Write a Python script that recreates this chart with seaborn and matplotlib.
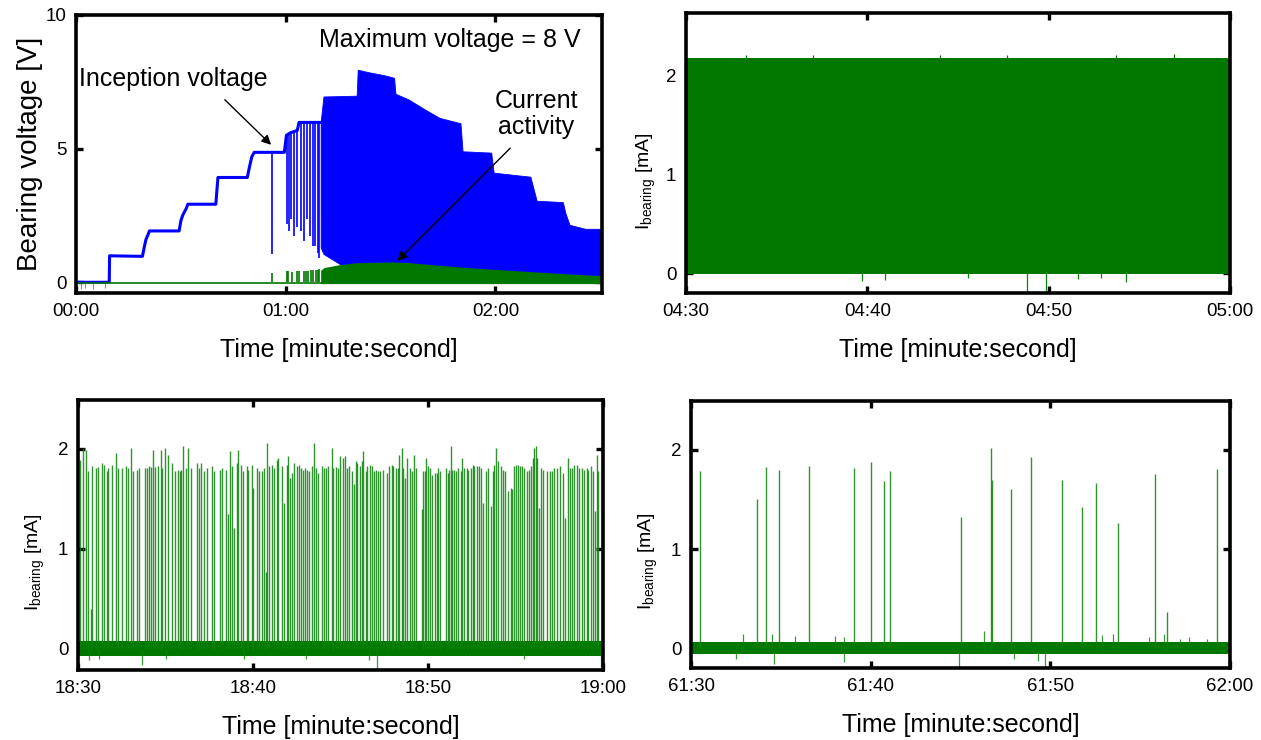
import matplotlib
matplotlib.use("Agg")
import matplotlib.pyplot as plt
import numpy as np
import pandas as pd
import seaborn as sns
from matplotlib.ticker import FuncFormatter, MultipleLocator

BLUE = "#0000ff"
GREEN = "#007800"
SPIKE_GREEN = "#0a820a"

# ---- panel 1: voltage ramp (s, V) ----
volt_t = [0, 9.5, 9.6, 19.0, 19.5, 20.0, 20.5, 21.0, 29.5, 30.0, 30.5, 31.5, 32.0,
          40.0, 40.6, 49.0, 49.6, 50.3, 51.0, 59.6, 60.2, 61.5, 63.3, 63.8, 70.0]
volt_v = [0.0, 0.0, 0.99, 0.97, 1.3, 1.6, 1.75, 1.92, 1.92, 2.3, 2.5, 2.75, 2.92,
          2.92, 3.92, 3.92, 4.3, 4.7, 4.86, 4.86, 5.5, 5.6, 5.68, 5.98, 5.98]
# breakdown drops before the dense region (time, lowest voltage)
drop_t = [56.0, 60.4, 60.8, 61.5, 62.3, 63.2, 64.4, 65.3, 66.2, 66.9, 67.7, 68.4, 69.1, 69.6]
drop_v = [1.05, 2.17, 1.92, 2.36, 1.73, 2.05, 1.92, 1.55, 2.36, 1.73, 1.36, 1.36, 1.11, 0.92]
dip_t = [1.3, 2.6, 4.9, 8.3]
dip_v = [-0.26, -0.2, -0.26, -0.2]
# dense blue envelope after t = 70 s
band_t = [70.0, 70.8, 80.3, 80.6, 84, 88, 91.0, 91.4, 95, 100, 104, 110.0, 110.6,
          118.8, 119.5, 130.0, 131.8, 139.3, 140.0, 141.2, 145.7, 150.5]
band_hi = [6.0, 6.95, 6.98, 7.95, 7.85, 7.75, 7.65, 7.05, 6.85, 6.45, 6.15, 5.95, 4.9,
           4.85, 4.1, 3.95, 3.05, 3.0, 2.6, 2.15, 2.0, 2.0]
band_lo_t = [70.0, 71.0, 73.0, 75.0, 76.0, 150.5]
band_lo = [1.3, 1.0, 0.85, 0.7, 0.3, 0.2]
# current activity envelope
cur_t = [70.0, 71, 75, 80, 90, 95, 100, 110, 120, 130, 140, 150.5]
cur_hi = [0.45, 0.55, 0.65, 0.73, 0.76, 0.74, 0.68, 0.57, 0.48, 0.40, 0.32, 0.25]
cur_spk_t = [56.0, 60.4, 60.7, 61.7, 63.2, 63.9, 65.1, 65.8, 66.4, 67.2, 67.9, 68.6, 69.1, 69.6]
cur_spk_v = [0.36, 0.42, 0.42, 0.40, 0.42, 0.42, 0.44, 0.42, 0.44, 0.45, 0.46, 0.46, 0.47, 0.48]

# ---- panel 2: 04:30 - 05:00 ----
p2_start = 270
p2_band = (-0.01, 2.17)
p2_up_t = [3.3, 7.0, 14.0, 17.7, 23.7, 26.9]
p2_up_v = [2.20, 2.21, 2.20, 2.20, 2.21, 2.22]
p2_dn_t = [9.69, 10.99, 15.57, 18.78, 19.88, 21.64, 22.9, 24.27]
p2_dn_v = [-0.08, -0.07, -0.05, -0.2, -0.2, -0.06, -0.05, -0.09]

# ---- panel 3: 18:30 - 19:00 ----
p3_start = 1110
p3_t = [0.11, 0.30, 0.44, 0.59, 0.74, 0.82, 1.01, 1.12, 1.35, 1.47, 1.64, 1.73, 1.92,
        2.17, 2.30, 2.50, 2.74, 2.88, 3.01, 3.12, 3.35, 3.49, 3.83, 3.92, 4.06, 4.17,
        4.30, 4.40, 4.59, 4.74, 4.82, 4.97, 5.12, 5.35, 5.54, 5.73, 5.83, 5.89, 6.02,
        6.15, 6.30, 6.46, 6.78, 6.91, 7.03, 7.22, 7.35, 7.64, 7.79, 8.11, 8.21, 8.44,
        8.55, 8.69, 8.78, 8.93, 9.07, 9.16, 9.30, 9.45, 9.64, 9.73, 9.92,
        9.98, 10.21, 10.34, 10.50, 10.63, 10.74, 10.82, 10.91, 11.07, 11.22, 11.35,
        11.45, 11.68, 11.79, 11.92, 12.02, 12.11, 12.25, 12.36, 12.50, 12.63, 12.74,
        12.88, 12.99, 13.10, 13.22, 13.35, 13.50, 13.58, 13.73, 13.92, 14.06, 14.17,
        14.30, 14.50, 14.59, 14.74, 14.88, 14.97, 15.12, 15.26, 15.35, 15.50, 15.64,
        15.77, 15.89, 15.96, 16.11, 16.21, 16.30, 16.44, 16.53, 16.69, 16.80, 16.91,
        17.03, 17.16, 17.26, 17.41, 17.64, 17.79, 17.92, 18.02, 18.15, 18.27, 18.36,
        18.50, 18.59, 18.69, 18.82, 18.97, 19.07, 19.20, 19.31, 19.64, 19.73, 19.83,
        19.89, 20.02,
        20.11, 20.25, 20.40, 20.51, 20.59, 20.69, 21.01, 21.12, 21.22, 21.31, 21.39,
        21.50, 21.60, 21.73, 21.87, 21.96, 22.08, 22.21, 22.30, 22.44, 22.55, 22.65,
        22.78, 22.91, 23.03, 23.16, 23.30, 23.45, 23.58, 23.70, 23.79, 23.90, 24.02,
        24.17, 24.27, 24.40, 24.59, 24.74, 24.82, 24.93, 25.01, 25.12, 25.26, 25.39,
        25.50, 25.64, 25.77, 25.89, 25.98, 26.06, 26.15, 26.23, 26.34, 26.46, 26.59,
        26.78, 26.97, 27.07, 27.22, 27.35, 27.54, 27.70, 27.83, 27.98, 28.11, 28.21,
        28.36, 28.50, 28.63, 28.78, 28.93, 29.07, 29.16, 29.30, 29.45, 29.54, 29.64,
        29.73]
p3_v = [1.89, 2.01, 1.99, 1.78, 0.40, 1.83, 1.81, 1.82, 1.86, 1.84, 1.78, 1.81, 1.84,
        1.96, 1.81, 1.81, 1.83, 1.81, 2.01, 1.78, 1.79, 1.81, 1.81, 1.81, 1.83, 1.82,
        1.99, 1.82, 1.83, 1.99, 1.81, 2.01, 1.94, 1.86, 1.78, 1.79, 1.78, 1.79, 2.03,
        1.81, 2.01, 1.81, 1.86, 1.81, 1.86, 1.78, 1.81, 1.83, 1.78, 1.79, 1.81, 1.79,
        1.35, 1.98, 1.83, 1.21, 1.86, 1.99, 1.84, 1.78, 1.83, 1.79, 1.84,
        1.61, 1.81, 1.78, 1.78, 1.81, 0.77, 2.06, 1.83, 1.84, 1.81, 1.89,
        1.91, 1.83, 1.46, 1.84, 1.93, 1.71, 1.76, 1.86, 1.83, 1.84, 1.81,
        1.79, 1.81, 1.79, 1.78, 1.83, 2.06, 1.81, 1.76, 1.83, 1.81, 1.81,
        1.83, 2.01, 1.81, 1.82, 1.81, 1.93, 1.91, 1.93, 1.81, 1.83, 1.78,
        1.65, 1.88, 1.86, 1.83, 1.88, 1.98, 1.78, 1.83, 1.84, 1.83, 1.78,
        1.79, 1.78, 1.78, 1.79, 1.76, 1.83, 1.84, 1.83, 1.81, 1.81, 1.94,
        2.01, 1.81, 1.71, 1.91, 1.81, 1.78, 1.94, 1.81, 1.40, 1.78, 1.78,
        1.91, 1.83,
        1.81, 1.74, 1.76, 1.76, 1.81, 1.78, 1.81, 1.76, 1.79, 2.03, 1.79,
        1.79, 1.78, 1.81, 1.78, 1.91, 1.81, 1.81, 1.79, 1.81, 1.84, 1.83,
        1.83, 1.83, 1.81, 1.46, 1.78, 1.81, 1.43, 1.78, 1.84, 2.01, 1.88,
        1.83, 1.79, 1.78, 1.58, 1.61, 1.60, 1.83, 1.84, 1.84, 1.83, 1.83,
        1.81, 1.78, 1.79, 1.83, 1.91, 2.01, 2.03, 1.91, 1.41, 1.81, 1.79,
        1.78, 1.78, 1.78, 1.81, 1.81, 1.83, 1.76, 1.31, 1.91, 1.81, 1.81,
        1.84, 1.84, 1.81, 1.81, 1.79, 1.81, 1.79, 1.83, 1.78, 1.38, 1.94,
        1.78]
p3_band = (-0.07, 0.08)
p3_dn_t = [0.6, 1.2, 3.64, 5.0, 9.5, 13.0, 16.6, 17.07, 25.5, 29.9]
p3_dn_v = [-0.11, -0.1, -0.16, -0.1, -0.1, -0.1, -0.11, -0.21, -0.1, -0.18]

# ---- panel 4: 61:30 - 62:00 ----
p4_start = 3690
p4_t = [0.51, 3.67, 4.20, 4.92, 6.58, 9.09, 10.04, 10.73, 11.05, 15.05, 16.71,
        16.78, 17.82, 18.90, 20.63, 21.74, 22.55, 23.77, 25.82, 26.49, 29.26]
p4_v = [1.79, 1.50, 1.83, 1.80, 1.84, 1.82, 1.88, 1.69, 1.79, 1.32, 2.02,
        1.70, 1.61, 1.93, 1.70, 1.42, 1.67, 1.26, 1.76, 0.37, 1.81]
p4_band = (-0.055, 0.07)
p4_up_t = [2.9, 4.5, 5.8, 8.0, 8.5, 16.3, 22.9, 23.5, 25.5, 26.3, 27.2, 27.7, 28.7]
p4_up_v = [0.15, 0.15, 0.13, 0.13, 0.12, 0.18, 0.14, 0.15, 0.12, 0.15, 0.10, 0.12, 0.10]
p4_dn_t = [2.5, 4.6, 8.5, 14.9, 18.0, 19.3, 19.7]
p4_dn_v = [-0.10, -0.15, -0.13, -0.2, -0.1, -0.12, -0.2]


def mmss(s, _):
    s = int(round(s))
    return f"{s // 60:02d}:{s % 60:02d}"


def style_axes(ax):
    for sp in ax.spines.values():
        sp.set_linewidth(2.6)
        sp.set_color("black")
    ax.tick_params(direction="in", length=5, width=2.4, top=True, right=True,
                   labelsize=13.5, pad=7, colors="black")
    ax.xaxis.set_major_formatter(FuncFormatter(mmss))
    ax.set_xlabel("Time [minute:second]", fontsize=18, labelpad=13, color="black")


sns.set_theme(style="ticks")
plt.rcParams["font.family"] = ["Liberation Sans", "DejaVu Sans"]
plt.rcParams["mathtext.fontset"] = "custom"
plt.rcParams["mathtext.rm"] = "Liberation Sans"
plt.rcParams["text.color"] = "black"
plt.rcParams["axes.labelcolor"] = "black"

fig = plt.figure(figsize=(12.61, 7.40), dpi=100)
ax1 = fig.add_axes([0.0603, 0.6041, 0.4171, 0.3757])
ax2 = fig.add_axes([0.5440, 0.6041, 0.4314, 0.3784])
ax3 = fig.add_axes([0.0619, 0.0946, 0.4163, 0.3649])
ax4 = fig.add_axes([0.5480, 0.0973, 0.4274, 0.3608])

# panel 1
volt_df = pd.DataFrame({"t": volt_t, "v": volt_v})
ax1.vlines(dip_t, 0, dip_v, color=BLUE, lw=0.8, alpha=0.5)
ax1.fill_between(band_t, np.interp(band_t, band_lo_t, band_lo), band_hi,
                 color=BLUE, lw=0.6, edgecolor=BLUE)
drop_top = np.interp(drop_t, volt_t, volt_v)
ax1.vlines(drop_t, drop_v, drop_top, color=BLUE, lw=1.2)
sns.lineplot(data=volt_df, x="t", y="v", ax=ax1, color=BLUE, lw=2.2,
             estimator=None, sort=False)
ax1.plot([0, 150.5], [-0.04, -0.04], color=GREEN, lw=1.2)
ax1.vlines(cur_spk_t, 0, cur_spk_v, color=GREEN, lw=1.2)
ax1.fill_between(cur_t, -0.05, cur_hi, color=GREEN, lw=0)
ax1.set_xlim(0, 150.5)
ax1.set_ylim(-0.4, 10)
ax1.xaxis.set_major_locator(MultipleLocator(60))
ax1.yaxis.set_major_locator(MultipleLocator(5))
style_axes(ax1)
ax1.set_ylabel("Bearing voltage [V]", fontsize=20, labelpad=2, color="black")
ax1.text(69.4, 9.07, "Maximum voltage = 8 V", fontsize=18, va="center", ha="left")
ax1.text(0.8, 7.6, "Inception voltage", fontsize=18, va="center", ha="left")
ax1.text(131.7, 6.3, "Current\nactivity", fontsize=18, va="center", ha="center",
         linespacing=1.1)
arrow = dict(arrowstyle="-|>", color="black", lw=1.0, mutation_scale=14)
ax1.annotate("", xy=(56.4, 5.07), xytext=(42, 6.9), arrowprops=arrow)
ax1.annotate("", xy=(91.4, 0.73), xytext=(124.8, 5.09), arrowprops=arrow)

# panel 2
ax2.fill_between([p2_start, p2_start + 30], p2_band[0], p2_band[1], color=GREEN, lw=0)
ax2.vlines(np.add(p2_up_t, p2_start), p2_band[1] - 0.05, p2_up_v, color=GREEN, lw=0.9)
ax2.vlines(np.add(p2_dn_t, p2_start), 0, p2_dn_v, color=SPIKE_GREEN, lw=0.9)
ax2.set_xlim(p2_start, p2_start + 30)
ax2.set_ylim(-0.2, 2.63)

# panel 3
ax3.fill_between([p3_start, p3_start + 30], p3_band[0], p3_band[1], color=GREEN, lw=0)
ax3.vlines(np.add(p3_t, p3_start), 0, p3_v, color=SPIKE_GREEN, lw=1.0, alpha=0.85)
ax3.vlines(np.add(p3_dn_t, p3_start), 0, p3_dn_v, color=SPIKE_GREEN, lw=0.9, alpha=0.8)
ax3.set_xlim(p3_start, p3_start + 30)
ax3.set_ylim(-0.21, 2.49)

# panel 4
ax4.fill_between([p4_start, p4_start + 30], p4_band[0], p4_band[1], color=GREEN, lw=0)
ax4.vlines(np.add(p4_t, p4_start), 0, p4_v, color=SPIKE_GREEN, lw=1.0, alpha=0.85)
ax4.vlines(np.add(p4_up_t, p4_start), 0, p4_up_v, color=SPIKE_GREEN, lw=0.9, alpha=0.8)
ax4.vlines(np.add(p4_dn_t, p4_start), 0, p4_dn_v, color=SPIKE_GREEN, lw=0.9, alpha=0.8)
ax4.set_xlim(p4_start, p4_start + 30)
ax4.set_ylim(-0.195, 2.49)

for ax, lx in ((ax2, -0.052), (ax3, -0.06), (ax4, -0.058)):
    ax.xaxis.set_major_locator(MultipleLocator(10))
    ax.yaxis.set_major_locator(MultipleLocator(1))
    style_axes(ax)
    ax.set_ylabel(r"$\mathregular{I_{bearing}}$ [mA]", fontsize=14, color="black")
    ax.yaxis.set_label_coords(lx, 0.40)

fig.savefig("out.png", dpi=100)
